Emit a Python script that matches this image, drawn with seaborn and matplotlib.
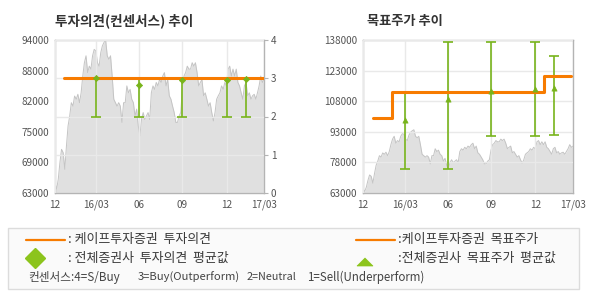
import numpy as np
import pandas as pd
import matplotlib
matplotlib.use("Agg")
import matplotlib.pyplot as plt
import seaborn as sns
from matplotlib.lines import Line2D
from matplotlib.patches import Rectangle, Polygon

sns.set_theme(style="white")
plt.rcParams['font.family'] = ['Noto Sans CJK KR', 'DejaVu Sans']

# ---------------- data ----------------
price = [65000, 63800, 65800, 69150, 71850, 71170, 67800, 72500, 76600, 78600,
         81300, 80600, 82650, 82000, 83000, 81300, 83300, 86700, 89400, 90800,
         87400, 88700, 88100, 90800, 92100, 91800, 89400, 88700, 91400, 92800,
         93500, 94000, 90800, 90100, 90800, 86700, 82000, 81300, 80600, 81300,
         80600, 77300, 81300,
         81300, 84700, 83300, 84000, 82000, 81300, 78600, 80000, 76600, 74600,
         78000, 79300, 77900, 78600, 79300, 77900, 83300, 84700, 84000, 85400,
         84700, 86000, 85400, 86700, 87400, 84700, 86000, 82700, 82000, 80600,
         79300, 77300, 77300, 78600, 79300, 84000, 86700, 87400, 88700, 88100,
         88100, 89400, 88700,
         89400, 87400, 84700, 85400, 86000, 82700, 83300, 82000, 80600, 81300,
         79300, 77600, 79300, 82000, 82700, 83300, 84700, 84000, 85400, 84700,
         88100, 88700, 86700, 88100, 86700, 88100, 85400, 84700, 83300, 82000,
         84700, 85400, 82700, 83300, 82000, 82700, 83000, 82000, 83300, 84700,
         86700, 85400, 86000]

# months since start of chart (0 = "12", 15 = "17/03")
tick_pos = [0, 2.97, 6.05, 9.14, 12.32, 15]
tick_labels = ['12', '16/03', '06', '09', '12', '17/03']

# KAPE investment opinion
kape_op_t = [0.65, 15.0]
kape_op = [3, 3]

# consensus investment opinion
op_t = [2.97, 6.05, 9.14, 12.32, 13.68]
op_avg = [3.0, 2.82, 2.96, 2.95, 2.99]
op_low = [2, 2, 2, 2, 2]
op_high = [3, 3, 3, 3, 3]

# KAPE target price
kape_tp_t = [0.71, 2.10, 12.93, 14.88]
kape_tp = [100000, 112600, 120300, 120300]

# consensus target price
ct_t = [3.0, 6.07, 9.14, 12.31, 13.64]
ct_avg = [98700, 109300, 113100, 114200, 114700]
ct_low = [75000, 75000, 90700, 90700, 91600]
ct_high = [112600, 137200, 137200, 137200, 130300]

left_ticks = [63000, 69000, 75000, 82000, 88000, 94000]
right_ticks = [63000, 78000, 93000, 108000, 123000, 138000]
op_ticks = [0, 1, 2, 3, 4]

title_left = '투자의견(컨센서스) 추이'
title_right = '목표주가 추이'
leg_kape_op = ': 케이프투자증권  투자의견'
leg_cons_op = ': 전체증권사  투자의견  평균값'
leg_kape_tp = ':케이프투자증권  목표주가'
leg_cons_tp = ':전체증권사  목표주가  평균값'
consensus_parts = ['컨센서스:4=S/Buy', '3=Buy(Outperform)', '2=Neutral', '1=Sell(Underperform)']

ORANGE = '#F77B00'
GREEN = '#78B41B'
GREEN_L = '#8CC41C'
GRID = '#E9E9E9'
SPINE = '#B4B4B4'
TXT = '#555555'

t = np.linspace(0, 15, len(price))
df = pd.DataFrame({'t': t, 'price': price})

fig = plt.figure(figsize=(5.9, 3.0), dpi=100)
fig.patch.set_facecolor('white')
renderer = fig.canvas.get_renderer()


def fx(px):
    return px/590


def fy(py):
    return 1-py/300


def fit_text(x0, x1, y, s, base=8.0, **kw):
    txt = fig.text(fx(x0), fy(y), s, fontsize=base, ha='left', va='center', **kw)
    w = txt.get_window_extent(renderer).width
    txt.set_fontsize(base*(x1-x0)/w)
    return txt


def style_axes(ax):
    for s in ax.spines.values():
        s.set_color(SPINE)
        s.set_linewidth(1.0)
    ax.tick_params(axis='both', colors=TXT, labelsize=7.2, length=3, width=0.8,
                   pad=2, color=SPINE)
    ax.tick_params(axis='y', length=0, pad=4)
    ax.set_xlim(0, 15)
    ax.set_xticks(tick_pos)
    ax.set_xticklabels(tick_labels)
    ax.set_xlabel('')
    ax.set_ylabel('')


# ---------------- left chart ----------------
ax1 = fig.add_axes([55/590, 1-193/300, 209/590, 153/300])
ax1.fill_between(t, price, 63000, color='#E0E0E0', lw=0, zorder=1)
sns.lineplot(data=df, x='t', y='price', ax=ax1, color='#C4C4C4', lw=0.7, zorder=1.5)
ax1.set_ylim(63000, 94000)
ax1.set_yticks(np.linspace(63000, 94000, 6))
ax1.set_yticklabels([str(v) for v in left_ticks])
style_axes(ax1)
ax1.set_axisbelow(False)
ax1.xaxis.grid(True, color=GRID, lw=1.0, zorder=2)
ax1.yaxis.grid(False)

ax1b = ax1.twinx()
ax1b.set_ylim(0, 4)
ax1b.set_yticks(op_ticks)
ax1b.yaxis.grid(True, color=GRID, lw=1.0)
ax1b.set_axisbelow(False)
for s in ax1b.spines.values():
    s.set_visible(False)
ax1b.tick_params(axis='y', colors=TXT, labelsize=7.2, length=3, width=0.8,
                 pad=2, color=SPINE, right=True)
oa = np.array(op_avg)
ax1b.errorbar(op_t, op_avg, yerr=[oa - np.array(op_low), np.array(op_high) - oa],
              fmt='none', ecolor=GREEN, elinewidth=1.2, capsize=3.3, capthick=1.2,
              zorder=3)
sns.lineplot(x=kape_op_t, y=kape_op, ax=ax1b, color=ORANGE, lw=2.2, zorder=4)
sns.scatterplot(x=op_t, y=op_avg, ax=ax1b, marker='D', s=10, color=GREEN,
                edgecolor=GREEN, linewidth=0.5, zorder=5)
ax1b.set_ylabel('')
ax1b.set_xlim(0, 15)

fit_text(55, 193, 21, title_left, base=9.5, fontweight='bold', color='#333333')

# ---------------- right chart ----------------
ax2 = fig.add_axes([363/590, 1-193/300, 210/590, 153/300])
ax2.fill_between(t, price, 63000, color='#E0E0E0', lw=0, zorder=1)
sns.lineplot(data=df, x='t', y='price', ax=ax2, color='#C4C4C4', lw=0.7, zorder=1.5)
ax2.set_ylim(63000, 138000)
ax2.set_yticks(right_ticks)
ax2.set_yticklabels([str(v) for v in right_ticks])
style_axes(ax2)
ax2.set_axisbelow(False)
ax2.grid(True, color=GRID, lw=1.0, zorder=2)
ca = np.array(ct_avg)
ax2.errorbar(ct_t, ct_avg, yerr=[ca - np.array(ct_low), np.array(ct_high) - ca],
             fmt='none', ecolor=GREEN, elinewidth=1.2, capsize=3.3, capthick=1.2,
             zorder=3)
sns.lineplot(x=kape_tp_t, y=kape_tp, ax=ax2, color=ORANGE, lw=2.2, zorder=4,
             drawstyle='steps-post')
sns.scatterplot(x=ct_t, y=ct_avg, ax=ax2, marker='^', s=14, color=GREEN,
                edgecolor=GREEN, linewidth=0.5, zorder=5)
ax2.set_xlabel('')
ax2.set_ylabel('')

fit_text(367, 443, 21, title_right, base=9.5, fontweight='bold', color='#333333')

# ---------------- legend box ----------------
fig.add_artist(Rectangle((fx(8), fy(289)), 571/590, 61/300,
                         transform=fig.transFigure, facecolor='#FAFAFA',
                         edgecolor='#DCDCDC', lw=1.0, zorder=0))

LEG = '#3A3A3A'
t1 = fit_text(68, 212, 240, leg_kape_op, color=LEG)
fs = t1.get_fontsize()
fig.text(fx(68), fy(258), leg_cons_op, fontsize=fs, color=LEG, ha='left', va='center')
fig.text(fx(398), fy(240), leg_kape_tp, fontsize=fs, color=LEG, ha='left', va='center')
fig.text(fx(398), fy(258), leg_cons_tp, fontsize=fs, color=LEG, ha='left', va='center')

fig.add_artist(Line2D([fx(26), fx(65)], [fy(240), fy(240)], color=ORANGE, lw=1.6,
                      transform=fig.transFigure, zorder=3))
fig.add_artist(Line2D([fx(356), fx(395)], [fy(240), fy(240)], color=ORANGE, lw=1.6,
                      transform=fig.transFigure, zorder=3))
fig.add_artist(Line2D([fx(35)], [fy(258)], marker='D', markersize=10, color=GREEN_L,
                      lw=0, transform=fig.transFigure, zorder=3))
# flat legend triangle (about 16 px wide, 7 px tall)
fig.add_artist(Polygon([(fx(357), fy(266)), (fx(373), fy(266)), (fx(365), fy(258))],
                       closed=True, transform=fig.transFigure,
                       facecolor=GREEN_L, edgecolor=GREEN_L, lw=0.5, zorder=3))

# consensus scale row
for (x0, x1), s in zip([(28, 120), (138, 240), (247, 297), (307, 425)], consensus_parts):
    fit_text(x0, x1, 277, s, base=7.5, color='#444444')

fig.savefig('out.png', dpi=100, facecolor='white')
